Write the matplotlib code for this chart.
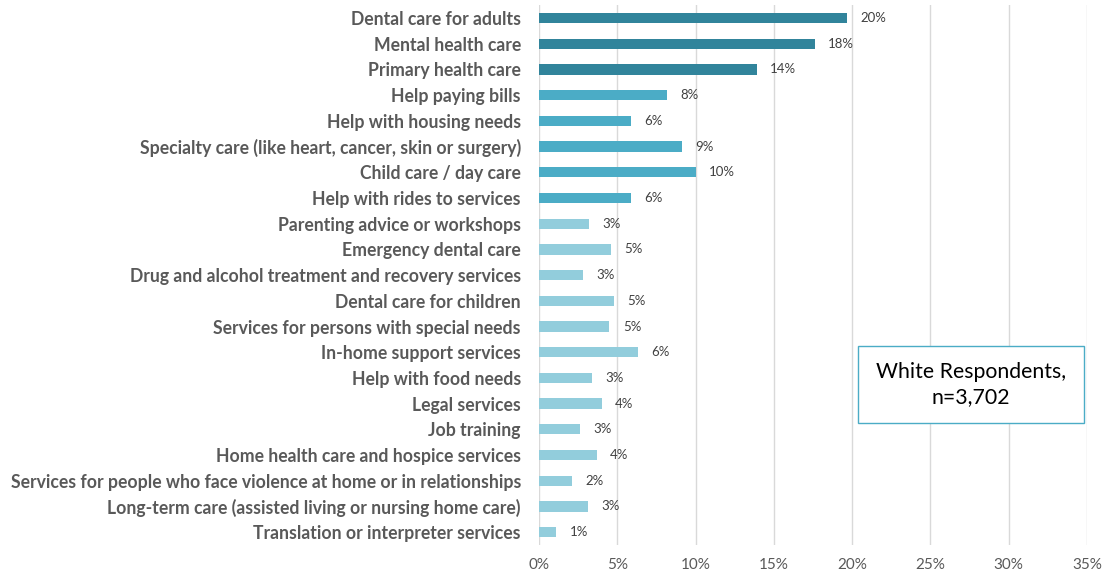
import matplotlib.pyplot as plt
from matplotlib.patches import Rectangle

services = [
    "Dental care for adults",
    "Mental health care",
    "Primary health care",
    "Help paying bills",
    "Help with housing needs",
    "Specialty care (like heart, cancer, skin or surgery)",
    "Child care / day care",
    "Help with rides to services",
    "Parenting advice or workshops",
    "Emergency dental care",
    "Drug and alcohol treatment and recovery services",
    "Dental care for children",
    "Services for persons with special needs",
    "In-home support services",
    "Help with food needs",
    "Legal services",
    "Job training",
    "Home health care and hospice services",
    "Services for people who face violence at home or in relationships",
    "Long-term care (assisted living or nursing home care)",
    "Translation or interpreter services",
]
values = [19.7, 17.6, 13.9, 8.2, 5.9, 9.1, 10.0, 5.9, 3.2, 4.6, 2.8,
          4.8, 4.5, 6.3, 3.4, 4.0, 2.6, 3.7, 2.1, 3.1, 1.1]
labels = ["20%", "18%", "14%", "8%", "6%", "9%", "10%", "6%", "3%", "5%", "3%",
          "5%", "5%", "6%", "3%", "4%", "3%", "4%", "2%", "3%", "1%"]
tier = [0, 0, 0, 1, 1, 1, 1, 1] + [2] * 13
tier_colors = ["#31849B", "#4BACC6", "#92CDDC"]

plt.rcParams['font.family'] = ['Lato', 'DejaVu Sans']

fig = plt.figure(figsize=(11.03, 5.74), dpi=100)
ax = fig.add_axes([0.4887, 0.0505, 0.4968, 0.9405])

y = list(range(len(services)))
ax.barh(y, values, height=0.4, color=[tier_colors[t] for t in tier], zorder=3)
for yi, v, lab in zip(y, values, labels):
    ax.text(v + 0.85, yi, lab, va='center', ha='left', fontsize=9.5, color='#404040')

ax.set_xlim(0, 35)
ax.set_ylim(len(services) - 0.5, -0.5)
ax.set_xticks(range(0, 36, 5))
ax.set_xticklabels([f"{t}%" for t in range(0, 36, 5)], fontsize=11, color='#595959')
ax.set_yticks(y)
ax.set_yticklabels(services, fontsize=12.7, fontweight='bold', color='#595959')
ax.tick_params(axis='both', length=0)
ax.tick_params(axis='x', pad=9)
ax.tick_params(axis='y', pad=13)
ax.grid(axis='x', color='#D9D9D9', linewidth=1, zorder=0)
for s in ax.spines.values():
    s.set_visible(False)

box = Rectangle((858 / 1103, 1 - 423 / 574), 226 / 1103, 77 / 574,
                transform=fig.transFigure, facecolor='white', edgecolor='#4BACC6',
                linewidth=1, zorder=5)
fig.patches.append(box)
fig.text(971 / 1103, 1 - 384.5 / 574, "White Respondents,\nn=3,702", ha='center', va='center',
         fontsize=15.3, color='black', linespacing=1.3, zorder=6)

fig.savefig("out.png", dpi=100)
